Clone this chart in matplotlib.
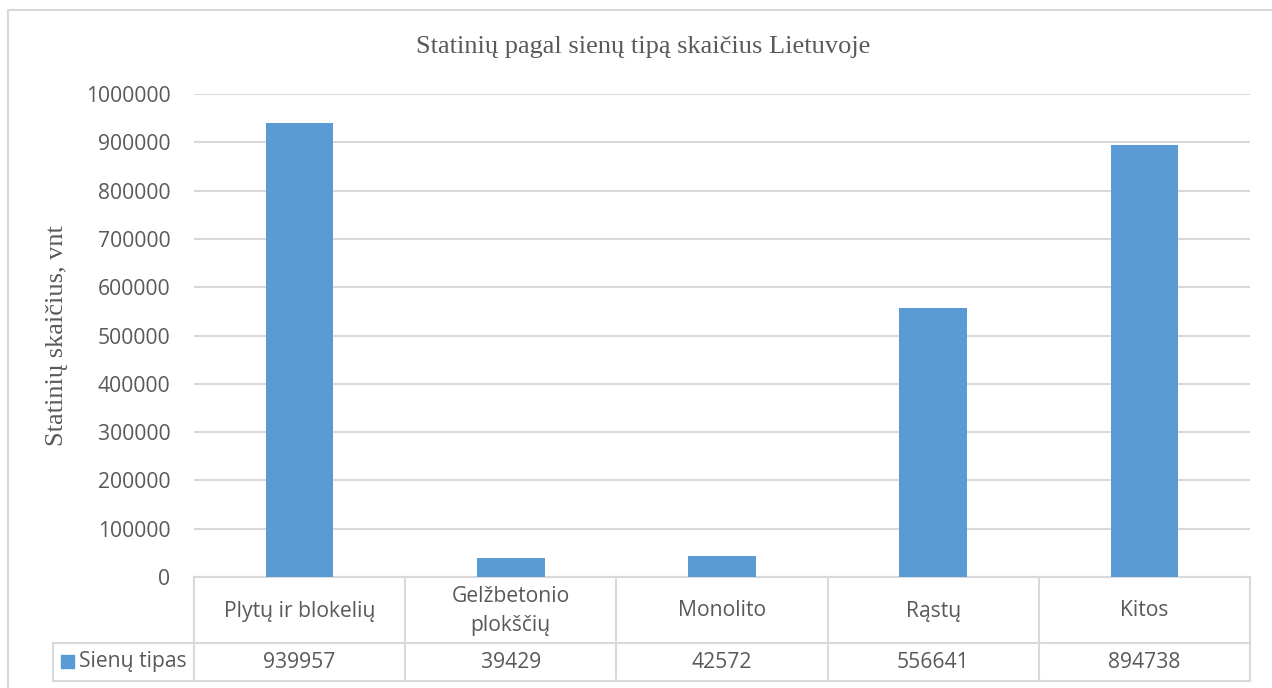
import matplotlib.pyplot as plt
import numpy as np

# ── Data ───────────────────────────────────────────────
CATEGORIES = ['Plytų ir blokelių', 'Gelžbetonio\nplokščių', 'Monolito', 'Rąstų', 'Kitos']
VALUES = [939957, 39429, 42572, 556641, 894738]
SERIES_NAME = 'Sienų tipas'
Y_TICKS = [0, 100000, 200000, 300000, 400000, 500000,
           600000, 700000, 800000, 900000, 1000000]

TITLE = 'Statinių pagal sienų tipą skaičius Lietuvoje'
Y_LABEL = 'Statinių skaičius, vnt'

# ── Style ──────────────────────────────────────────────
BAR_COLOR = '#5B9BD5'
GRID_COLOR = '#D9D9D9'
TEXT_COLOR = '#595959'
SANS = 'Open Sans'
SERIF = 'Liberation Serif'
FS = 15.2

W, H = 1272, 688
PLOT_L, PLOT_R = 194, 1250
PLOT_T, PLOT_B = 94, 577
ROW1_B, ROW2_B = 643, 681
LEGEND_L = 53

fig = plt.figure(figsize=(W / 100, H / 100), dpi=100)
fig.patch.set_facecolor('white')

# pixel-space overlay for the frame and data table
ov = fig.add_axes([0, 0, 1, 1])
ov.set_xlim(0, W)
ov.set_ylim(H, 0)
ov.axis('off')

# chart frame (runs off the right/bottom edge)
ov.plot([8, 8, W + 5], [H + 5, 10, 10], color=GRID_COLOR, lw=1.5)

# ── Bar chart ──────────────────────────────────────────
ax = fig.add_axes([PLOT_L / W, 1 - PLOT_B / H,
                   (PLOT_R - PLOT_L) / W, (PLOT_B - PLOT_T) / H])
x = np.arange(len(CATEGORIES))
ax.bar(x, VALUES, width=0.32, color=BAR_COLOR, zorder=3)
ax.set_xlim(-0.5, len(CATEGORIES) - 0.5)
ax.set_ylim(0, 1000000)
ax.set_yticks(Y_TICKS)
ax.set_yticklabels([str(v) for v in Y_TICKS], fontfamily=SANS,
                   fontsize=FS, color=TEXT_COLOR)
ax.tick_params(axis='y', length=0, pad=17)
ax.set_xticks([])
ax.grid(axis='y', color=GRID_COLOR, lw=1.5, zorder=0)
for s in ax.spines.values():
    s.set_visible(False)
ax.patch.set_alpha(0)

# axis title and chart title
ov.text(57, 336, Y_LABEL, rotation=90, ha='center', va='center',
        fontfamily=SERIF, fontsize=19, color=TEXT_COLOR)
ov.text(643, 47, TITLE, ha='center', va='center',
        fontfamily=SERIF, fontsize=19, color=TEXT_COLOR)

# ── Data table ─────────────────────────────────────────
n = len(CATEGORIES)
col_w = (PLOT_R - PLOT_L) / n
edges = [PLOT_L + i * col_w for i in range(n + 1)]

ov.plot([PLOT_L, PLOT_R], [PLOT_B, PLOT_B], color=GRID_COLOR, lw=1.5)
ov.plot([LEGEND_L, PLOT_R], [ROW1_B, ROW1_B], color=GRID_COLOR, lw=1.5)
ov.plot([LEGEND_L, PLOT_R], [ROW2_B, ROW2_B], color=GRID_COLOR, lw=1.5)
ov.plot([LEGEND_L, LEGEND_L], [ROW1_B, ROW2_B], color=GRID_COLOR, lw=1.5)
for e in edges:
    ov.plot([e, e], [PLOT_B, ROW2_B], color=GRID_COLOR, lw=1.5)

for i, (cat, val) in enumerate(zip(CATEGORIES, VALUES)):
    cx = (edges[i] + edges[i + 1]) / 2
    ov.text(cx, (PLOT_B + ROW1_B) / 2 + 1, cat, ha='center', va='center',
            fontfamily=SANS, fontsize=FS, color=TEXT_COLOR,
            linespacing=1.45)
    ov.text(cx, (ROW1_B + ROW2_B) / 2, str(val), ha='center', va='center',
            fontfamily=SANS, fontsize=FS, color=TEXT_COLOR)

# legend key + series name
ov.add_patch(plt.Rectangle((61, 655), 13, 13, color=BAR_COLOR))
ov.text(79, (ROW1_B + ROW2_B) / 2, SERIES_NAME, ha='left', va='center',
        fontfamily=SANS, fontsize=FS, color=TEXT_COLOR)

fig.savefig('out.png', dpi=100)
